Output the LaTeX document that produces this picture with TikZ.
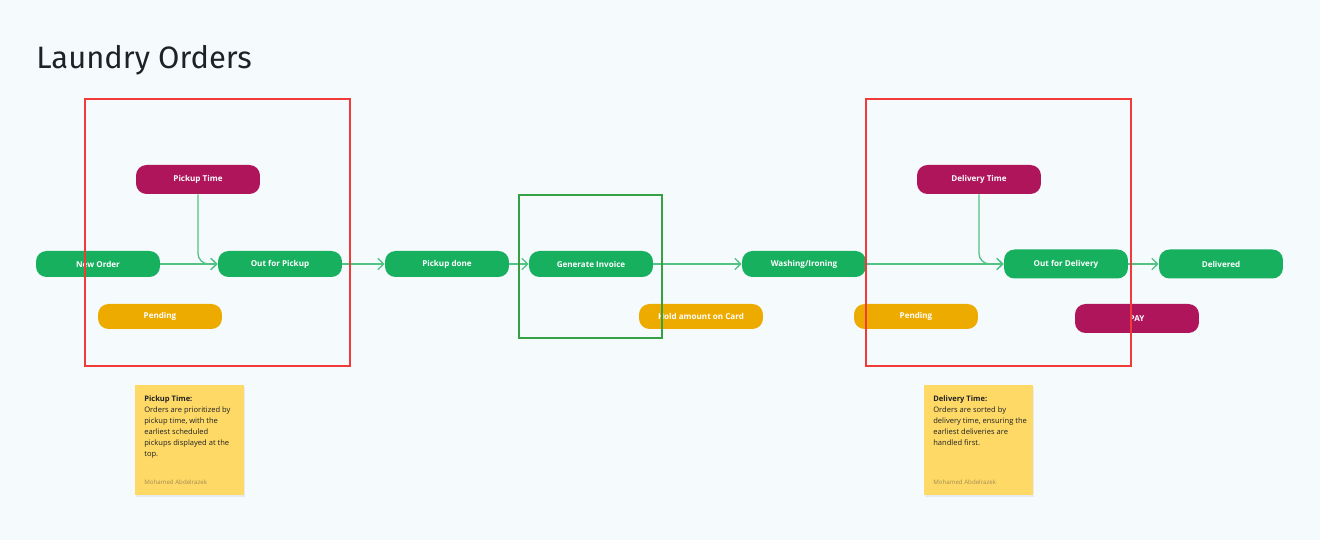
\documentclass[tikz,border=0pt]{standalone}
\usepackage{fontspec}
\setmainfont{Open Sans}
\newfontfamily\titlefont{Fira Sans}
\usetikzlibrary{arrows.meta, shadows}

\definecolor{bgcol}{HTML}{F5FAFD}
\definecolor{stategreen}{HTML}{17B05F}
\definecolor{timemag}{HTML}{AE155B}
\definecolor{pendamber}{HTML}{EDAB00}
\definecolor{linkgreen}{HTML}{52C285}
\definecolor{framered}{HTML}{F23A3A}
\definecolor{framegreen}{HTML}{36A044}
\definecolor{stickyyellow}{HTML}{FFD966}
\definecolor{titlegray}{HTML}{1E2126}
\definecolor{authorgray}{HTML}{A08E55}

\newcommand{\statefont}{\fontsize{4.6}{5.5}\selectfont\bfseries}
\newcommand{\notefont}{\fontsize{4.3}{6.25}\selectfont}

\begin{document}
\begin{tikzpicture}[x=0.02cm, y=-0.02cm,
    pill/.style={rounded corners=6pt, minimum width=2.48cm, minimum height=0.52cm,
        inner sep=0pt, text=white, font=\statefont},
    state/.style={pill, fill=stategreen},
    timer/.style={pill, fill=timemag, minimum height=0.58cm},
    waiting/.style={pill, fill=pendamber, minimum height=0.5cm},
    link/.style={draw=linkgreen, line width=0.75pt, -{Straight Barb[length=3.4pt, width=6.5pt]}},
    sticky/.style={fill=stickyyellow, minimum width=2.18cm, minimum height=2.2cm, inner sep=0pt,
        drop shadow={shadow xshift=0.5pt, shadow yshift=-1.2pt, opacity=0.12}},
    notetext/.style={anchor=north west, align=left, inner sep=0pt, font=\notefont, text=titlegray}]

    % Background and page size
    \fill[bgcol] (0,0) rectangle (1320,540);
    \useasboundingbox (0,0) rectangle (1320,540);

    % Title
    \node[anchor=base west, inner sep=0pt, font=\titlefont\fontsize{17.6}{20}\selectfont, text=titlegray]
        (title) at (36,69) {Laundry Orders};

    % Order states
    \node[state] (neworder) at (98,264) {New Order};
    \node[state] (outpickup) at (280,264) {Out for Pickup};
    \node[state] (pickupdone) at (447,264) {Pickup done};
    \node[state] (invoice) at (591,264) {Generate Invoice};
    \node[state] (washing) at (804,264) {Washing/Ironing};
    \node[state, minimum height=0.58cm] (outdelivery) at (1066,264) {Out for Delivery};
    \node[state, minimum height=0.58cm] (delivered) at (1221,264) {Delivered};

    % Time and payment conditions
    \node[timer] (pickuptime) at (198,179.5) {Pickup Time};
    \node[timer] (deliverytime) at (979,179.5) {Delivery Time};
    \node[timer] (pay) at (1137,318.5) {PAY};

    % Pending states
    \node[waiting] (pending1) at (160,316.5) {Pending};
    \node[waiting] (holdcard) at (701,316.5) {Hold amount on Card};
    \node[waiting] (pending2) at (916,316.5) {Pending};

    % Connectors
    \draw[link] (neworder) -- (outpickup);
    \draw[link, rounded corners=6pt] (pickuptime.south) |- (outpickup.west);
    \draw[link] (outpickup) -- (pickupdone);
    \draw[link] (pickupdone) -- (invoice);
    \draw[link] (invoice) -- (washing);
    \draw[link] (washing) -- (outdelivery);
    \draw[link, rounded corners=6pt] (deliverytime.south) |- (outdelivery.west);
    \draw[link] (outdelivery) -- (delivered);

    % Frames
    \draw[framered, line width=0.6pt] (85,99) rectangle (350,366);
    \draw[framered, line width=0.6pt] (866,99) rectangle (1131,366);
    \draw[framegreen, line width=0.6pt] (519,195) rectangle (662,338);

    % Sticky notes
    \node[sticky] (pickupnote) at (189.5,440) {};
    \node[notetext] (pickupnotetext) at (144,395.5)
        {\textbf{Pickup Time:}\\Orders are prioritized by\\pickup time, with the\\earliest scheduled\\pickups displayed at the\\top.};
    \node[notetext, font=\fontsize{3.5}{4}\selectfont, text=authorgray] (pickupauthor) at (144,479.5) {Mohamed Abdelrazek};

    \node[sticky] (deliverynote) at (978.5,440) {};
    \node[notetext] (deliverynotetext) at (933,395.5)
        {\textbf{Delivery Time:}\\Orders are sorted by\\delivery time, ensuring the\\earliest deliveries are\\handled first.};
    \node[notetext, font=\fontsize{3.5}{4}\selectfont, text=authorgray] (deliveryauthor) at (933,479.5) {Mohamed Abdelrazek};
\end{tikzpicture}
\end{document}
